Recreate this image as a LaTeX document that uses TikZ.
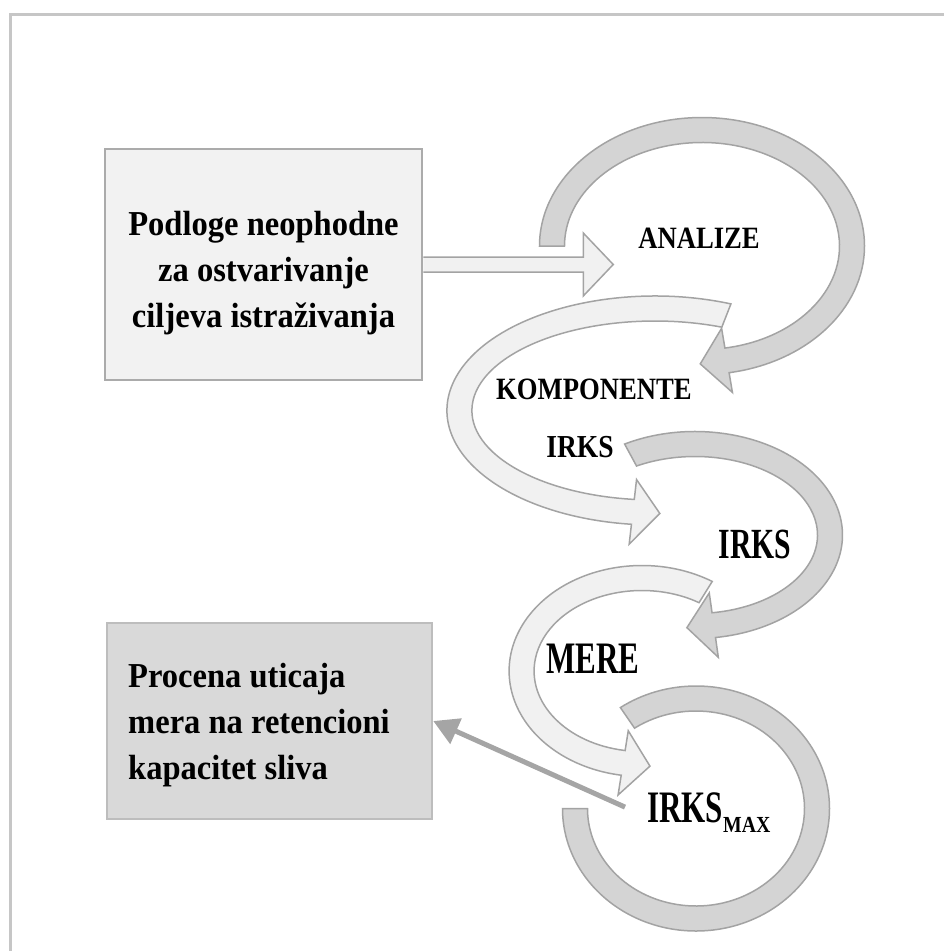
\documentclass[tikz,border=0pt]{standalone}
\usepackage{fontspec}
\setmainfont{Liberation Serif}
\newfontfamily\boxfont[FakeStretch=0.93]{Liberation Serif}
\newfontfamily\slimfont[FakeStretch=0.86]{Liberation Serif}
\newfontfamily\tallfont[FakeStretch=0.69]{Liberation Serif}
\usetikzlibrary{calc,arrows.meta}

\definecolor{darkfill}{HTML}{D4D4D4}
\definecolor{lightfill}{HTML}{F1F1F1}
\definecolor{bandline}{HTML}{A3A3A3}
\definecolor{boxline}{HTML}{ABABAB}
\definecolor{boxonefill}{HTML}{F2F2F2}
\definecolor{boxtwofill}{HTML}{D9D9D9}
\definecolor{boxtwoline}{HTML}{BDBDBD}
\definecolor{pointer}{HTML}{A5A5A5}
\definecolor{framegray}{HTML}{C6C6C6}

\newcommand{\bandw}{12.5}
\newcommand{\flange}{20}
\newcommand{\headlen}{27}

% curved block arrow on an ellipse: cx, cy, rx, ry, from, to, style
\newcommand{\bandarrow}[7]{%
  \pgfmathsetmacro\bsgn{ifthenelse(#6>#5,1,-1)}%
  \pgfmathsetmacro\bc{cos(#6)}%
  \pgfmathsetmacro\bs{sin(#6)}%
  \pgfmathsetmacro\btx{-(\bsgn)*(#3)*(\bs)}%
  \pgfmathsetmacro\bty{(\bsgn)*(#4)*(\bc)}%
  \pgfmathsetmacro\btn{veclen(\btx,\bty)}%
  \pgfmathsetmacro\bpx{#1+(#3)*(\bc)+\headlen*(\btx)/(\btn)}%
  \pgfmathsetmacro\bpy{#2+(#4)*(\bs)+\headlen*(\bty)/(\btn)}%
  \pgfmathsetmacro\bRo{#3+\bandw}\pgfmathsetmacro\bro{#4+\bandw}%
  \pgfmathsetmacro\bRi{#3-\bandw}\pgfmathsetmacro\bri{#4-\bandw}%
  \pgfmathsetmacro\bRf{#3+\bandw+\flange}\pgfmathsetmacro\brf{#4+\bandw+\flange}%
  \pgfmathsetmacro\bRg{#3-\bandw-\flange}\pgfmathsetmacro\brg{#4-\bandw-\flange}%
  \filldraw[#7] ($(#1,#2)+(#5:{\bRo} and {\bro})$)
    arc[start angle=#5, end angle=#6, x radius=\bRo, y radius=\bro]
    -- ($(#1,#2)+(#6:{\bRf} and {\brf})$) -- (\bpx,\bpy)
    -- ($(#1,#2)+(#6:{\bRg} and {\brg})$) -- ($(#1,#2)+(#6:{\bRi} and {\bri})$)
    arc[start angle=#6, end angle=#5, x radius=\bRi, y radius=\bri] -- cycle;
}

\tikzset{
  darkband/.style={fill=darkfill, draw=bandline, line width=1.5pt, line join=miter},
  lightband/.style={fill=lightfill, draw=bandline, line width=1.5pt, line join=miter},
  box/.style={line width=2.5pt, inner sep=0pt},
  boxtext/.style={inner sep=0pt, font=\boxfont\bfseries\fontsize{35}{46}\selectfont},
  lbl/.style={inner sep=0pt, anchor=base},
}

\begin{document}
\begin{tikzpicture}[x=1pt, y=1pt, yscale=-1]
  \useasboundingbox (0,0) rectangle (944,951);
  \draw[framegray, line width=3pt] (10,14.5) rectangle (960,970);

  \draw[darkband] ($(696,808.5)+(-180:{133.5} and {122.5})$)
    arc[start angle=-180, end angle=-484.5, x radius=133.5, y radius=122.5]
    -- ($(696,808.5)+(-484.5:{108.5} and {97.5})$)
    arc[start angle=-484.5, end angle=-180, x radius=108.5, y radius=97.5] -- cycle;
  \bandarrow{642}{671}{120.4}{93}{-58.1}{-261}{lightband}
  \bandarrow{695}{535}{135}{91}{-118.5}{82}{darkband}
  \bandarrow{655}{410.5}{195.6}{102}{-68.6}{-263.5}{lightband}
  \bandarrow{702}{246}{150}{116}{-180}{80.4}{darkband}

  \node[box, draw=boxline, fill=boxonefill, minimum width=317pt, minimum height=231pt] (podloge) at (263.5,264.5) {};
  \node[boxtext, anchor=north, align=center] (podlogetxt) at (263.5,211.5) {Podloge neophodne\\za ostvarivanje\\ciljeva istraživanja};
  \node[box, draw=boxtwoline, fill=boxtwofill, minimum width=325pt, minimum height=196pt] (procena) at (269.5,721) {};
  \node[boxtext, anchor=north west, align=left] (procenatxt) at (128,663) {Procena uticaja\\mera na retencioni\\kapacitet sliva};

  \filldraw[lightband] ($(podloge.east)+(0,-7.5)$) -- ++(160,0) -- ++(0,-24) -- ++(30,31.5)
    -- ++(-30,31.5) -- ++(0,-24) -- ++(-160,0);

  \node[lbl, font=\slimfont\bfseries\fontsize{31}{31}\selectfont] (analize) at (699,248) {ANALIZE};
  \node[lbl, font=\slimfont\bfseries\fontsize{31}{31}\selectfont] (komponente) at (594,399) {KOMPONENTE};
  \node[lbl, font=\slimfont\bfseries\fontsize{32}{32}\selectfont] (irksa) at (580,457) {IRKS};
  \node[lbl, font=\tallfont\bfseries\fontsize{43}{43}\selectfont] (irksb) at (755,558) {IRKS};
  \node[lbl, font=\tallfont\bfseries\fontsize{45}{45}\selectfont] (mere) at (593,673) {MERE};
  \node[inner sep=0pt, anchor=base west, font=\tallfont\bfseries\fontsize{45}{45}\selectfont] (irksmax) at (647,822)
    {IRKS\raisebox{-10pt}{\slimfont\fontsize{23}{23}\selectfont MAX}};

  \draw[pointer, line width=5pt, -{Triangle[length=25pt, width=27pt]}] ($(irksmax.west)+(-22,-5)$) -- (procena.east);
\end{tikzpicture}
\end{document}
